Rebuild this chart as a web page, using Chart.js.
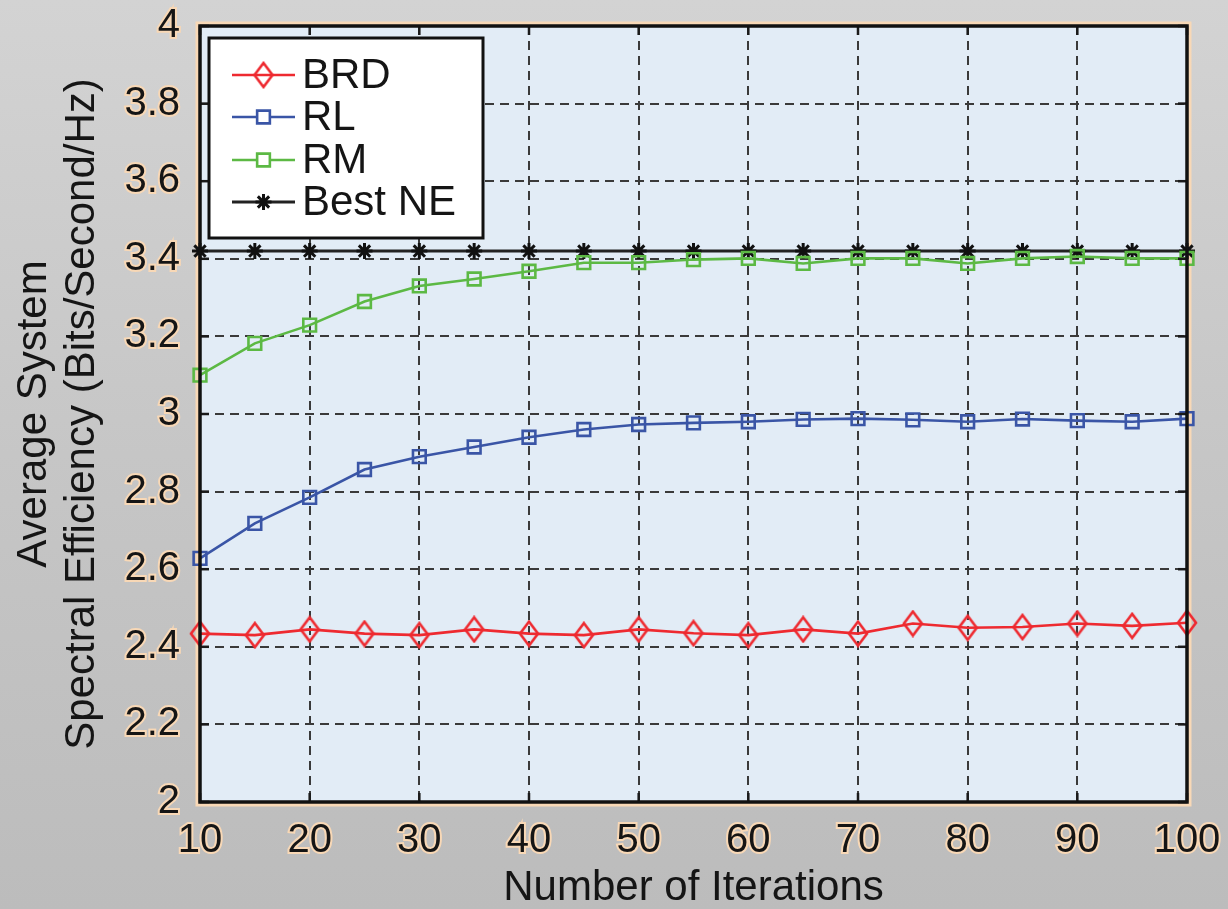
<!DOCTYPE html>
<html><head><meta charset="utf-8">
<script src="https://cdn.jsdelivr.net/npm/chart.js@4.4.1/dist/chart.umd.min.js"></script>
<style>
html,body{margin:0;padding:0;}
body{width:1228px;height:909px;overflow:hidden;background:linear-gradient(#d3d3d3,#c6c6c6 50%,#bcbcbc);}
#c{display:block;}
</style>
</head><body>
<canvas id="c" width="1228" height="909"></canvas>
<script>
const iterations = [10,15,20,25,30,35,40,45,50,55,60,65,70,75,80,85,90,95,100];
const brd = [2.434,2.430,2.445,2.434,2.430,2.445,2.434,2.430,2.445,2.435,2.430,2.445,2.434,2.460,2.449,2.451,2.460,2.454,2.462];
const rl  = [2.628,2.718,2.785,2.857,2.890,2.915,2.940,2.960,2.973,2.977,2.980,2.986,2.988,2.985,2.980,2.987,2.983,2.980,2.988];
const rm  = [3.100,3.182,3.229,3.290,3.330,3.348,3.368,3.390,3.390,3.398,3.401,3.388,3.401,3.401,3.388,3.401,3.406,3.401,3.401];
const bestNE = [3.42,3.42,3.42,3.42,3.42,3.42,3.42,3.42,3.42,3.42,3.42,3.42,3.42,3.42,3.42,3.42,3.42,3.42,3.42];
const xTickValues = [10,20,30,40,50,60,70,80,90,100];
const yTickValues = [2,2.2,2.4,2.6,2.8,3,3.2,3.4,3.6,3.8,4];
const seriesNames = ['BRD','RL','RM','Best NE'];
const xTitle = 'Number of Iterations';
const yTitle = ['Average System','Spectral Efficiency (Bits/Second/Hz)'];

const FONT = '"Liberation Sans", Arial, Helvetica, sans-serif';
const GLOW = '#f8d8b6';
const RED = '#ee2a30', BLUE = '#3a55a6', GREEN = '#5cb944', BLACK = '#222222';

// hollow tall diamond marker image
const diamond = document.createElement('canvas');
diamond.width = 22; diamond.height = 28;
(function(){
  const g = diamond.getContext('2d');
  g.strokeStyle = RED; g.lineWidth = 2.6;
  g.beginPath(); g.moveTo(11,2); g.lineTo(20,14); g.lineTo(11,26); g.lineTo(2,14); g.closePath(); g.stroke();
})();

const pts = arr => arr.map((v,i)=>({x:iterations[i], y:v}));

const framePlugin = {
  id:'frame',
  beforeDraw(chart){
    const {ctx, chartArea:a} = chart;
    ctx.save();
    ctx.strokeStyle = GLOW; ctx.lineWidth = 9;
    ctx.strokeRect(a.left, a.top, a.right-a.left, a.bottom-a.top);
    ctx.fillStyle = '#e2ecf6';
    ctx.fillRect(a.left, a.top, a.right-a.left, a.bottom-a.top);
    ctx.restore();
  },
  afterDraw(chart){
    const {ctx, chartArea:a, scales} = chart;
    ctx.save();
    // inward ticks
    ctx.strokeStyle = '#1a1a1a'; ctx.lineWidth = 2.5;
    const tl = 9;
    xTickValues.forEach(v=>{
      const x = scales.x.getPixelForValue(v);
      ctx.beginPath(); ctx.moveTo(x,a.bottom); ctx.lineTo(x,a.bottom-tl); ctx.stroke();
      ctx.beginPath(); ctx.moveTo(x,a.top); ctx.lineTo(x,a.top+tl); ctx.stroke();
    });
    yTickValues.forEach(v=>{
      const y = scales.y.getPixelForValue(v);
      ctx.beginPath(); ctx.moveTo(a.left,y); ctx.lineTo(a.left+tl,y); ctx.stroke();
      ctx.beginPath(); ctx.moveTo(a.right,y); ctx.lineTo(a.right-tl,y); ctx.stroke();
    });
    // frame
    ctx.strokeStyle = '#111'; ctx.lineWidth = 3.5;
    ctx.strokeRect(a.left, a.top, a.right-a.left, a.bottom-a.top);

    // legend
    const bx = a.left+9, by = a.top+12, bw = 274, bh = 200;
    ctx.fillStyle = '#ffffff';
    ctx.fillRect(bx,by,bw,bh);
    ctx.strokeStyle = '#111'; ctx.lineWidth = 3;
    ctx.strokeRect(bx,by,bw,bh);
    const rows = [37,79,122,164];
    chart.data.datasets.forEach((ds,i)=>{
      const y = by + rows[i];
      ctx.strokeStyle = ds.borderColor; ctx.lineWidth = ds.borderWidth;
      ctx.beginPath(); ctx.moveTo(bx+23,y); ctx.lineTo(bx+86,y); ctx.stroke();
      ctx.fillStyle = 'rgba(255,255,255,1)';
      ctx.strokeStyle = ds.pointBorderColor; ctx.lineWidth = ds.pointBorderWidth;
      Chart.helpers.drawPoint(ctx, {pointStyle: ds.pointStyle, radius: ds.pointRadius, rotation:0, borderWidth: ds.pointBorderWidth}, bx+54.5, y);
      ctx.fillStyle = '#151515';
      ctx.font = '42px ' + FONT;
      ctx.textBaseline = 'middle'; ctx.textAlign = 'left';
      ctx.fillText(ds.label, bx+93, y+1);
    });
    ctx.restore();
  }
};

new Chart(document.getElementById('c'), {
  type:'line',
  data:{
    datasets:[
      {label:seriesNames[0], data:pts(brd), borderColor:RED, borderWidth:2.6, pointStyle:diamond, pointRadius:11, pointBorderColor:RED, pointBorderWidth:2.6, pointBackgroundColor:'rgba(0,0,0,0)', clip:false},
      {label:seriesNames[1], data:pts(rl), borderColor:BLUE, borderWidth:2.6, pointStyle:'rect', pointRadius:9, pointBorderColor:BLUE, pointBorderWidth:2.6, pointBackgroundColor:'rgba(0,0,0,0)', clip:false},
      {label:seriesNames[2], data:pts(rm), borderColor:GREEN, borderWidth:2.6, pointStyle:'rect', pointRadius:9, pointBorderColor:GREEN, pointBorderWidth:2.6, pointBackgroundColor:'rgba(0,0,0,0)', clip:false},
      {label:seriesNames[3], data:pts(bestNE), borderColor:BLACK, borderWidth:3, pointStyle:'star', pointRadius:8, pointBorderColor:'#111', pointBorderWidth:3, pointBackgroundColor:'#111', clip:false}
    ]
  },
  options:{
    responsive:false, animation:false, devicePixelRatio:1,
    layout:{padding:{top:26,right:41,left:0,bottom:0}},
    plugins:{legend:{display:false}, tooltip:{enabled:false}},
    elements:{line:{tension:0}},
    scales:{
      x:{
        type:'linear', min:10, max:100,
        afterBuildTicks(s){ s.ticks = xTickValues.map(v=>({value:v})); },
        afterFit(s){ s.height = 107; s.paddingLeft = 0; s.paddingRight = 0; },
        grid:{color:'#3a3a3a', lineWidth:2, drawTicks:false},
        border:{display:false, dash:[9,6]},
        ticks:{font:{family:FONT,size:40}, color:'#151515', padding:15, maxRotation:0, autoSkip:false, textStrokeColor:GLOW, textStrokeWidth:4, callback:v=>String(v)},
        title:{display:true, text:xTitle, font:{family:FONT,size:42,lineHeight:1.0}, color:'#151515', padding:{top:0,bottom:0}}
      },
      y:{
        type:'linear', min:2, max:4,
        afterBuildTicks(s){ s.ticks = yTickValues.map(v=>({value:v})); },
        afterFit(s){ s.width = 200; s.paddingTop = 0; s.paddingBottom = 0; },
        grid:{color:'#3a3a3a', lineWidth:2, drawTicks:false},
        border:{display:false, dash:[9,6]},
        ticks:{font:{family:FONT,size:40}, color:'#151515', padding:20, autoSkip:false, textStrokeColor:GLOW, textStrokeWidth:4, callback:v=>String(+Number(v).toFixed(1))},
        title:{display:true, text:yTitle, font:{family:FONT,size:42,lineHeight:1.15}, color:'#151515', padding:{top:10,bottom:0}}
      }
    }
  },
  plugins:[framePlugin]
});
</script>
</body></html>
